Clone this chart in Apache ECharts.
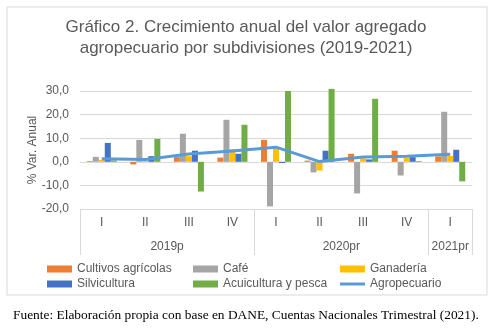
<!DOCTYPE html>
<html><head><meta charset="utf-8">
<script src="https://cdn.jsdelivr.net/npm/echarts@6/dist/echarts.min.js"></script>
<style>html,body{margin:0;padding:0;background:#fff}#c{width:503px;height:329px}</style>
</head><body><div id="c"></div>
<script>
const quarters = ['I','II','III','IV','I','II','III','IV','I'];
const years = ['2019p','2020pr','2021pr'];
const yearSpans = [4,4,1];
const cultivos = [0.3,-1.1,2.0,1.8,9.3,0.5,3.4,4.7,2.3];
const cafe = [2.1,9.3,11.9,17.8,-18.9,-4.5,-13.4,-5.8,21.2];
const ganaderia = [0.8,0.4,2.4,5.4,5.8,-3.7,1.5,1.7,2.5];
const silvicultura = [8.0,2.4,4.7,3.4,-0.5,4.7,1.0,2.0,5.1];
const acuicultura = [0.6,9.7,-12.6,15.7,30.0,30.9,26.7,0.3,-8.3];
const agropecuario = [1.3,1.0,3.3,4.6,6.2,0.1,2.0,2.4,3.2];
const names = ['Cultivos agrícolas','Café','Ganadería','Silvicultura','Acuicultura y pesca','Agropecuario'];
const colors = ['#ED7D31','#A5A5A5','#FFC000','#4472C4','#70AD47','#5B9BD5'];
const titleLines = ['Gráfico 2. Crecimiento anual del valor agregado','agropecuario por subdivisiones (2019-2021)'];
const sourceText = 'Fuente: Elaboración propia con base en DANE, Cuentas Nacionales Trimestral (2021).';

// year boundaries and centers
const boundaryIdx = []; const yearCenters = {};
let acc = 0;
yearSpans.forEach((s,i)=>{ boundaryIdx.push(acc); yearCenters[(acc + s/2).toFixed(1)] = years[i]; acc += s; });
const total = acc;

const txt = '#595959';
const font = 'Liberation Sans';
const chart = echarts.init(document.getElementById('c'));
const barData = [cultivos,cafe,ganaderia,silvicultura,acuicultura];
const series = barData.map((d,i)=>({
  name:names[i], type:'bar', data:d, barGap:'0%', barWidth:'13.8%', clip:false,
  itemStyle:{color:colors[i]}, xAxisIndex:0, yAxisIndex:0
}));
series.push({name:names[5], type:'line', data:agropecuario, symbol:'none', smooth:false,
  lineStyle:{color:colors[5], width:3}, itemStyle:{color:colors[5]}, z:5});

const legendCommon = {orient:'vertical', itemWidth:25, itemHeight:7, itemGap:1, itemTextGap:3,
  textStyle:{color:txt, fontFamily:font, fontSize:12, lineHeight:14}};
const li = (i)=> i===5 ? {name:names[i], icon:'path://M0,0 L25,0 L25,3 L0,3 Z'} : {name:names[i], icon:'rect'};
chart.setOption({
  animation:false,
  textStyle:{fontFamily:font},
  grid:{left:80, right:31, top:91, bottom:120, containLabel:false},
  xAxis:[
    {type:'category', data:quarters, position:'bottom', gridIndex:0,
     axisLine:{show:true, lineStyle:{color:'#D9D9D9'}}, axisTick:{show:false},
     axisLabel:{color:txt, fontSize:12, margin:8, interval:0}},
    {type:'category', data:quarters, position:'bottom', gridIndex:0,
     axisLine:{show:false}, axisLabel:{show:false},
     axisTick:{show:true, length:46, lineStyle:{color:'#D9D9D9'}, interval:(i)=>boundaryIdx.indexOf(i)>=0}},
    {type:'value', min:0, max:total, interval:0.5, position:'bottom', gridIndex:0,
     axisLine:{show:false}, axisTick:{show:false}, splitLine:{show:false},
     axisLabel:{color:txt, fontSize:12, margin:32, showMinLabel:true, showMaxLabel:true,
       formatter:(v)=>yearCenters[v.toFixed(1)]||''}}
  ],
  yAxis:{type:'value', min:-20, max:30, interval:10,
    name:'% Var. Anual', nameLocation:'middle', nameGap:47, nameRotate:90, nameMoveOverlap:false,
    nameTextStyle:{color:txt, fontSize:12, fontFamily:font, verticalAlign:'middle'},
    axisLine:{show:false}, axisTick:{show:false},
    splitLine:{lineStyle:{color:'#D9D9D9'}},
    axisLabel:{color:txt, fontSize:12, margin:11, formatter:(v)=>v.toFixed(1).replace('.',',')}},
  legend:[
    Object.assign({left:42, top:257, data:[li(0),li(3)]}, legendCommon),
    Object.assign({left:188, top:257, data:[li(1),li(4)]}, legendCommon),
    Object.assign({left:335, top:257, data:[li(2),li(5)]}, legendCommon)
  ],
  graphic:[
    {type:'rect', shape:{x:7, y:7, width:480, height:288}, style:{fill:'none', stroke:'#D9D9D9', lineWidth:1}, silent:true, z:-1},
    {type:'text', x:246, y:27, style:{text:titleLines[0], fill:txt, font:'17px "Liberation Sans"', textAlign:'center', textVerticalAlign:'middle'}},
    {type:'text', x:246, y:48, style:{text:titleLines[1], fill:txt, font:'17px "Liberation Sans"', textAlign:'center', textVerticalAlign:'middle'}},
    {type:'text', x:13, y:315, style:{text:sourceText, fill:'#000', font:'13.4px "Liberation Serif"', textAlign:'left', textVerticalAlign:'middle'}}
  ],
  series:series
});
</script></body></html>
